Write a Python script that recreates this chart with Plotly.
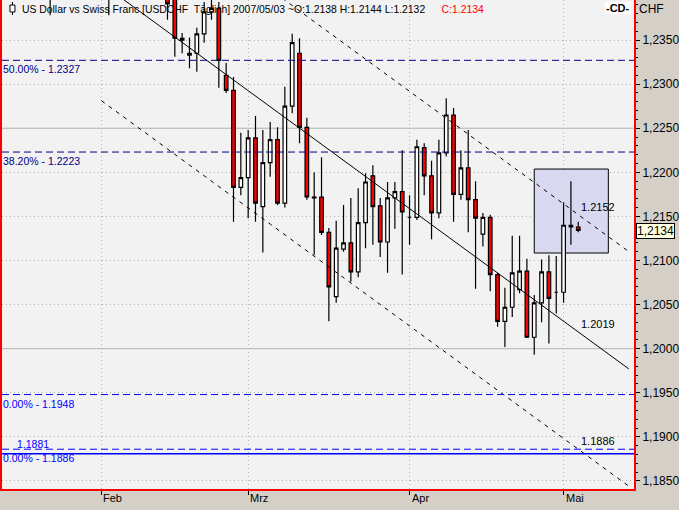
import plotly.graph_objects as go
import pandas as pd

# ---------------- data ----------------
dates = pd.bdate_range("2007-01-15", "2007-05-03")  # trading days (79 bars)

opens = [1.2440, 1.2460, 1.2480, 1.2470, 1.2490, 1.2505, 1.2450, 1.2420, 1.2470, 1.2500,
         1.2530, 1.2515, 1.2480, 1.2450, 1.2475, 1.2410, 1.2450, 1.2490, 1.2505, 1.2465,
         1.2440, 1.2430, 1.2420, 1.2398, 1.2352, 1.2333, 1.2335, 1.2357, 1.2382, 1.2386,
         1.2310, 1.2293, 1.2183, 1.2194, 1.2239, 1.2161, 1.2211, 1.2237, 1.2165, 1.2275,
         1.2335, 1.2251, 1.2172, 1.2172, 1.2132, 1.2059, 1.2113, 1.2120, 1.2087, 1.2143,
         1.2196, 1.2162, 1.2121, 1.2171, 1.2178, 1.2149, 1.2149, 1.2228, 1.2196, 1.2154,
         1.2222, 1.2265, 1.2175, 1.2205, 1.2169, 1.2130, 1.2149, 1.2084, 1.2031, 1.2047,
         1.2067, 1.2088, 1.2013, 1.2052, 1.2087, 1.2064, 1.2064, 1.2140, 1.2138]
highs = [1.2475, 1.2490, 1.2510, 1.2500, 1.2520, 1.2525, 1.2470, 1.2480, 1.2510, 1.2540,
         1.2555, 1.2545, 1.2500, 1.2490, 1.2485, 1.2460, 1.2505, 1.2520, 1.2515, 1.2490,
         1.2460, 1.2450, 1.2440, 1.2410, 1.2358, 1.2353, 1.2364, 1.2393, 1.2400, 1.2393,
         1.2324, 1.2308, 1.2245, 1.2248, 1.2264, 1.2248, 1.2257, 1.2251, 1.2297, 1.2357,
         1.2352, 1.2262, 1.2200, 1.2217, 1.2137, 1.2145, 1.2163, 1.2171, 1.2182, 1.2199,
         1.2208, 1.2171, 1.2189, 1.2189, 1.2225, 1.2174, 1.2237, 1.2233, 1.2213, 1.2237,
         1.2284, 1.2273, 1.2225, 1.2248, 1.2190, 1.2154, 1.2152, 1.2086, 1.2069, 1.2128,
         1.2128, 1.2102, 1.2061, 1.2101, 1.2106, 1.2105, 1.2166, 1.2190, 1.2144]
lows = [1.2420, 1.2435, 1.2455, 1.2445, 1.2465, 1.2440, 1.2378, 1.2410, 1.2455, 1.2480,
        1.2500, 1.2470, 1.2430, 1.2420, 1.2378, 1.2400, 1.2440, 1.2460, 1.2450, 1.2420,
        1.2405, 1.2400, 1.2373, 1.2331, 1.2335, 1.2318, 1.2314, 1.2347, 1.2373, 1.2296,
        1.2290, 1.2144, 1.2174, 1.2148, 1.2144, 1.2109, 1.2195, 1.2163, 1.2160, 1.2267,
        1.2233, 1.2169, 1.2106, 1.2129, 1.2031, 1.2052, 1.2110, 1.2076, 1.2081, 1.2114,
        1.2118, 1.2104, 1.2086, 1.2136, 1.2084, 1.2118, 1.2146, 1.2174, 1.2124, 1.2148,
        1.2218, 1.2144, 1.2169, 1.2132, 1.2068, 1.2116, 1.2065, 1.2025, 1.2002, 1.2036,
        1.2063, 1.2012, 1.1993, 1.2030, 1.2006, 1.2040, 1.2052, 1.2118, 1.2132]
closes = [1.2460, 1.2480, 1.2470, 1.2490, 1.2505, 1.2450, 1.2420, 1.2470, 1.2500, 1.2530,
          1.2515, 1.2480, 1.2450, 1.2475, 1.2410, 1.2450, 1.2490, 1.2505, 1.2465, 1.2440,
          1.2430, 1.2420, 1.2391, 1.2352, 1.2350, 1.2335, 1.2357, 1.2382, 1.2386, 1.2327,
          1.2293, 1.2183, 1.2194, 1.2239, 1.2165, 1.2211, 1.2237, 1.2165, 1.2275, 1.2347,
          1.2251, 1.2172, 1.2171, 1.2132, 1.2070, 1.2114, 1.2120, 1.2087, 1.2143, 1.2189,
          1.2161, 1.2121, 1.2171, 1.2178, 1.2155, 1.2149, 1.2229, 1.2196, 1.2154, 1.2222,
          1.2265, 1.2175, 1.2205, 1.2169, 1.2148, 1.2149, 1.2084, 1.2031, 1.2047, 1.2086,
          1.2088, 1.2013, 1.2052, 1.2087, 1.2057, 1.2064, 1.2140, 1.2138, 1.2134]

month_labels = ["Feb", "Mrz", "Apr", "Mai"]

# Fibonacci retracement levels (label, value)
fib_labels = ["50.00% - 1.2327", "38.20% - 1.2223", "0.00% - 1.1948", "0.00% - 1.1886"]
fib_values = [1.2327, 1.2223, 1.1948, 1.1886]
extra_level_label = "1.1881"
extra_level_value = 1.1881
# plain horizontal lines
hlines = [1.2250, 1.2000]

# regression channel: values at last bar and slope per bar
channel_labels = ["1.2152", "1.2019", "1.1886"]
channel_values = [1.2152, 1.2019, 1.1886]
channel_slope = -0.000608
channel_start = [0, 0, 13]
channel_end = 84.9

# highlighted box (bar index range, price range)
box_x = [72.0, 82.1]
box_y = [1.21085, 1.22037]

last_price = "1,2134"
title_black = "US Dollar vs Swiss Franc [USDCHF  Täglich] 2007/05/03 ~O:1.2138 H:1.2144 L:1.2132 "
title_red = "C:1.2134"

# ---------------- layout helpers ----------------
W, H = 679, 510
ML, MR, MT, MB = 1, 44, 0, 21
PW, PH = W - ML - MR, H - MT - MB
XR = [-0.56, 85.6]
YR = [1.18409, 1.23954]


def px2i(px):
    return XR[0] + (px - ML) / PW * (XR[1] - XR[0])


def py2p(py):
    return YR[1] - (py - MT) / PH * (YR[1] - YR[0])


def pxp(px):
    return (px - ML) / PW


def pyp(py):
    return 1 - (py - MT) / PH


n = len(dates)
xi = list(range(n))
month_idx = [i for i in range(1, n) if dates[i].month != dates[i - 1].month]

FONT = "Liberation Sans"
fig = go.Figure()

fig.add_trace(go.Candlestick(
    x=xi, open=opens, high=highs, low=lows, close=closes,
    increasing=dict(line=dict(color="black", width=1.2), fillcolor="white"),
    decreasing=dict(line=dict(color="black", width=1.2), fillcolor="#FF0000"),
    whiskerwidth=0, hoverinfo="skip", showlegend=False,
))

# channel lines
dashes = ["4px,5px", "solid", "4px,5px"]
for v, s, d in zip(channel_values, channel_start, dashes):
    xs = [s, channel_end]
    ys = [v + channel_slope * (x - (n - 1)) for x in xs]
    fig.add_trace(go.Scatter(x=xs, y=ys, mode="lines",
                             line=dict(color="black", width=1, dash=d),
                             hoverinfo="skip", showlegend=False))

shapes = []
annotations = []

# box
shapes.append(dict(type="rect", xref="x", yref="y", x0=box_x[0], x1=box_x[1],
                   y0=box_y[0], y1=box_y[1], fillcolor="#D8D8F0",
                   line=dict(color="black", width=1), layer="between"))

# horizontal plain lines
for v in hlines:
    shapes.append(dict(type="line", xref="paper", yref="y", x0=0, x1=1, y0=v, y1=v,
                       line=dict(color="#A8BEA8", width=1), layer="between"))

# fib lines
fib_colors = ["#000080", "#000080", "#0000FF", "#0000FF"]
for lab, v, c in zip(fib_labels, fib_values, fib_colors):
    shapes.append(dict(type="line", xref="paper", yref="y", x0=0, x1=1, y0=v, y1=v,
                       line=dict(color=c, width=1, dash="7px,4px"), layer="above"))
    annotations.append(dict(x=pxp(0), xref="paper", y=v, yref="y", text=lab,
                            showarrow=False, xanchor="left", yanchor="top", yshift=-1,
                            font=dict(family=FONT, size=10.5, color=c)))
shapes.append(dict(type="line", xref="paper", yref="y", x0=0, x1=1,
                   y0=extra_level_value, y1=extra_level_value,
                   line=dict(color="#0000FF", width=1.5), layer="above"))
annotations.append(dict(x=pxp(14), xref="paper", y=fib_values[3], yref="y",
                        text=extra_level_label, showarrow=False, xanchor="left",
                        yanchor="bottom", yshift=-3,
                        font=dict(family=FONT, size=10.5, color="#0000FF")))

# channel labels
for lab, v in zip(channel_labels, channel_values):
    annotations.append(dict(x=px2i(580), xref="x", y=v, yref="y", text=lab,
                            showarrow=False, xanchor="left", yanchor="middle", yshift=8,
                            font=dict(family=FONT, size=11, color="black")))

# title drawn below the candles (shape labels)
shapes.append(dict(type="rect", xref="x", yref="y", x0=px2i(18), x1=px2i(430),
                   y0=py2p(15), y1=py2p(1), line=dict(width=0), fillcolor="rgba(0,0,0,0)",
                   layer="between",
                   label=dict(text=title_black, textposition="middle left", padding=0,
                              font=dict(family=FONT, size=10.4, color="black"))))
shapes.append(dict(type="rect", xref="x", yref="y", x0=px2i(439), x1=px2i(500),
                   y0=py2p(15), y1=py2p(1), line=dict(width=0), fillcolor="rgba(0,0,0,0)",
                   layer="between",
                   label=dict(text=title_red, textposition="middle left", padding=0,
                              font=dict(family=FONT, size=10.4, color="#FF0000"))))

# small candle icon at top-left
shapes.append(dict(type="line", xref="paper", yref="paper", x0=pxp(11.5), x1=pxp(11.5),
                   y0=pyp(2), y1=pyp(15), line=dict(color="black", width=1)))
shapes.append(dict(type="rect", xref="paper", yref="paper", x0=pxp(9), x1=pxp(14),
                   y0=pyp(5), y1=pyp(12), fillcolor="white", line=dict(color="black", width=1)))

# link icon at top-right
shapes.append(dict(type="rect", xref="paper", yref="paper", x0=pxp(606), x1=pxp(632),
                   y0=pyp(14), y1=pyp(2), fillcolor="white", line=dict(width=0)))
annotations.append(dict(x=pxp(619), xref="paper", y=pyp(8), yref="paper", text="<b>-CD-</b>",
                        showarrow=False, xanchor="center", yanchor="middle",
                        borderpad=0,
                        font=dict(family=FONT, size=11, color="black")))
# CHF
annotations.append(dict(x=pxp(638), xref="paper", y=pyp(9), yref="paper", text="CHF",
                        showarrow=False, xanchor="left", yanchor="middle",
                        font=dict(family=FONT, size=12, color="black")))
# last price box
annotations.append(dict(x=pxp(637), xref="paper", y=closes[-1], yref="y", text=last_price,
                        showarrow=False, xanchor="left", yanchor="middle",
                        bgcolor="#FFFFE1", bordercolor="black", borderwidth=1, borderpad=0,
                        font=dict(family=FONT, size=12, color="black")))
# month labels
for idx, lab in zip(month_idx, month_labels):
    annotations.append(dict(x=idx, xref="x", y=pyp(498), yref="paper", text=lab,
                            showarrow=False, xanchor="left", yanchor="middle", xshift=0,
                            font=dict(family=FONT, size=11, color="black")))

fig.update_layout(
    width=W, height=H,
    margin=dict(l=ML, r=MR, t=MT, b=MB, pad=0),
    paper_bgcolor="#D4D0C8", plot_bgcolor="#F2F2F2",
    separators=", ",
    showlegend=False,
    boxgap=0.3,
    shapes=shapes, annotations=annotations,
    font=dict(family=FONT, size=12, color="black"),
    xaxis=dict(range=XR, tickvals=month_idx, showticklabels=False,
               ticks="outside", ticklen=4, tickcolor="black",
               showgrid=True, gridcolor="#A8BEA8", griddash="1px,3px", gridwidth=1,
               showline=True, linecolor="#FF0000", linewidth=2,
               zeroline=False, rangeslider=dict(visible=False), fixedrange=True),
    yaxis=dict(range=YR, side="right", tick0=1.185, dtick=0.005, tickformat=".4f",
               ticks="outside", ticklen=4, tickcolor="black",
               minor=dict(dtick=0.001, ticks="outside", ticklen=2, tickcolor="black",
                          showgrid=False),
               showgrid=True, gridcolor="#B4B4B4", griddash="1px,3px", gridwidth=1,
               showline=True, linecolor="#FF0000", linewidth=2, mirror=True,
               zeroline=False, fixedrange=True,
               tickfont=dict(family=FONT, size=12, color="black")),
)

fig.write_html("out.html", config={"displayModeBar": False},
               post_script="document.body.style.margin='0';document.body.style.padding='0';")
